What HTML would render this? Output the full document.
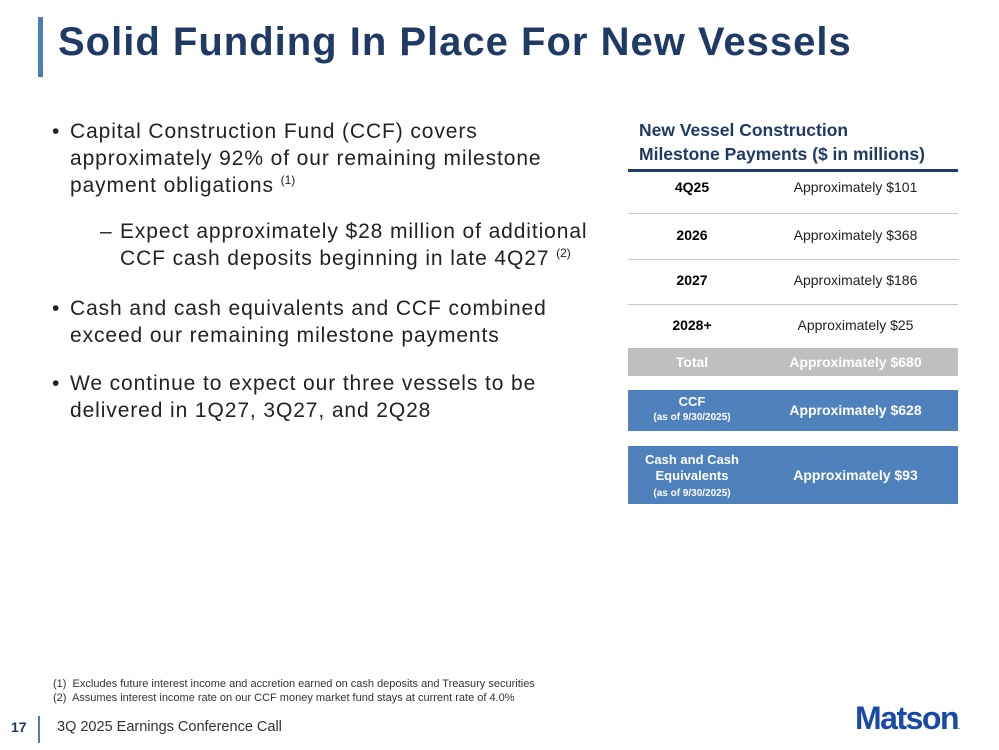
<!DOCTYPE html>
<html><head><meta charset="utf-8"><style>
body{margin:0;width:999px;height:750px;background:#fff;position:relative;font-family:"Liberation Sans",sans-serif;overflow:hidden}
.a{position:absolute;white-space:nowrap}
.t{font-size:21px;color:#222;line-height:27px;letter-spacing:0.9px}
sup{font-size:12px;line-height:0;letter-spacing:0}
.row{position:absolute;left:628px;width:330px;height:45px;border-bottom:1px solid #c8c8c8;font-size:14px;color:#222}
.row .l{position:absolute;left:0;width:128px;text-align:center;font-weight:bold;color:#000;top:13px}
.row .r{position:absolute;left:140px;width:175px;text-align:center;top:13px}
.bar{position:absolute;left:628px;width:330px;color:#fff;font-weight:bold}
.bar .l{position:absolute;left:0;width:128px;text-align:center}
.bar .r{position:absolute;left:140px;width:175px;text-align:center;font-size:14px}
</style></head><body>
<div class="a" style="left:38px;top:17px;width:5px;height:60px;background:#4a7ebb"></div>
<div class="a" style="left:58px;top:20px;font-size:40px;font-weight:bold;color:#1f3a64;letter-spacing:1px">Solid Funding In Place For New Vessels</div>

<div class="a t" style="left:52px;top:118px">•</div>
<div class="a t" style="left:70px;top:118px">Capital Construction Fund (CCF) covers<br>approximately 92% of our remaining milestone<br>payment obligations <sup>(1)</sup></div>
<div class="a t" style="left:100px;top:218px">–</div>
<div class="a t" style="left:120px;top:218px">Expect approximately $28 million of additional<br>CCF cash deposits beginning in late 4Q27 <sup>(2)</sup></div>
<div class="a t" style="left:52px;top:295px">•</div>
<div class="a t" style="left:70px;top:295px">Cash and cash equivalents and CCF combined<br>exceed our remaining milestone payments</div>
<div class="a t" style="left:52px;top:370px">•</div>
<div class="a t" style="left:70px;top:370px">We continue to expect our three vessels to be<br>delivered in 1Q27, 3Q27, and 2Q28</div>

<div class="a" style="left:639px;top:118px;font-size:17.5px;font-weight:bold;color:#1f3a64;line-height:24px">New Vessel Construction<br>Milestone Payments ($ in millions)</div>
<div class="a" style="left:628px;top:169px;width:330px;height:3px;background:#1f3a64"></div>
<div class="row" style="top:172px;height:41px"><div class="l" style="top:7px">4Q25</div><div class="r" style="top:7px">Approximately $101</div></div>
<div class="row" style="top:214px"><div class="l">2026</div><div class="r">Approximately $368</div></div>
<div class="row" style="top:259px"><div class="l">2027</div><div class="r">Approximately $186</div></div>
<div class="row" style="top:304px;border-bottom:none"><div class="l">2028+</div><div class="r">Approximately $25</div></div>
<div class="bar" style="top:348px;height:28px;background:#bfbfbf"><div class="l" style="top:6px;font-size:14px">Total</div><div class="r" style="top:6px">Approximately $680</div></div>
<div class="bar" style="top:390px;height:41px;background:#4f81bd"><div class="l" style="top:5px;font-size:13px;line-height:14px">CCF<br><span style="font-size:10px">(as of 9/30/2025)</span></div><div class="r" style="top:12px">Approximately $628</div></div>
<div class="bar" style="top:446px;height:58px;background:#4f81bd"><div class="l" style="top:6px;font-size:13px;line-height:16px">Cash and Cash<br>Equivalents<br><span style="font-size:10px">(as of 9/30/2025)</span></div><div class="r" style="top:21px">Approximately $93</div></div>

<div class="a" style="left:53px;top:677px;font-size:11px;color:#333;line-height:14px">(1)&nbsp; Excludes future interest income and accretion earned on cash deposits and Treasury securities<br>(2)&nbsp; Assumes interest income rate on our CCF money market fund stays at current rate of 4.0%</div>
<div class="a" style="left:11px;top:719px;font-size:14px;font-weight:bold;color:#1f3a64">17</div>
<div class="a" style="left:38px;top:716px;width:2px;height:27px;background:#4a7ebb"></div>
<div class="a" style="left:57px;top:719px;font-size:14.5px;color:#333">3Q 2025 Earnings Conference Call</div>
<div class="a" style="left:855px;top:700px;font-size:32px;font-weight:bold;color:#1a4aa8;letter-spacing:-1.5px">Matson<span style="font-size:7px">.</span></div>
</body></html>
